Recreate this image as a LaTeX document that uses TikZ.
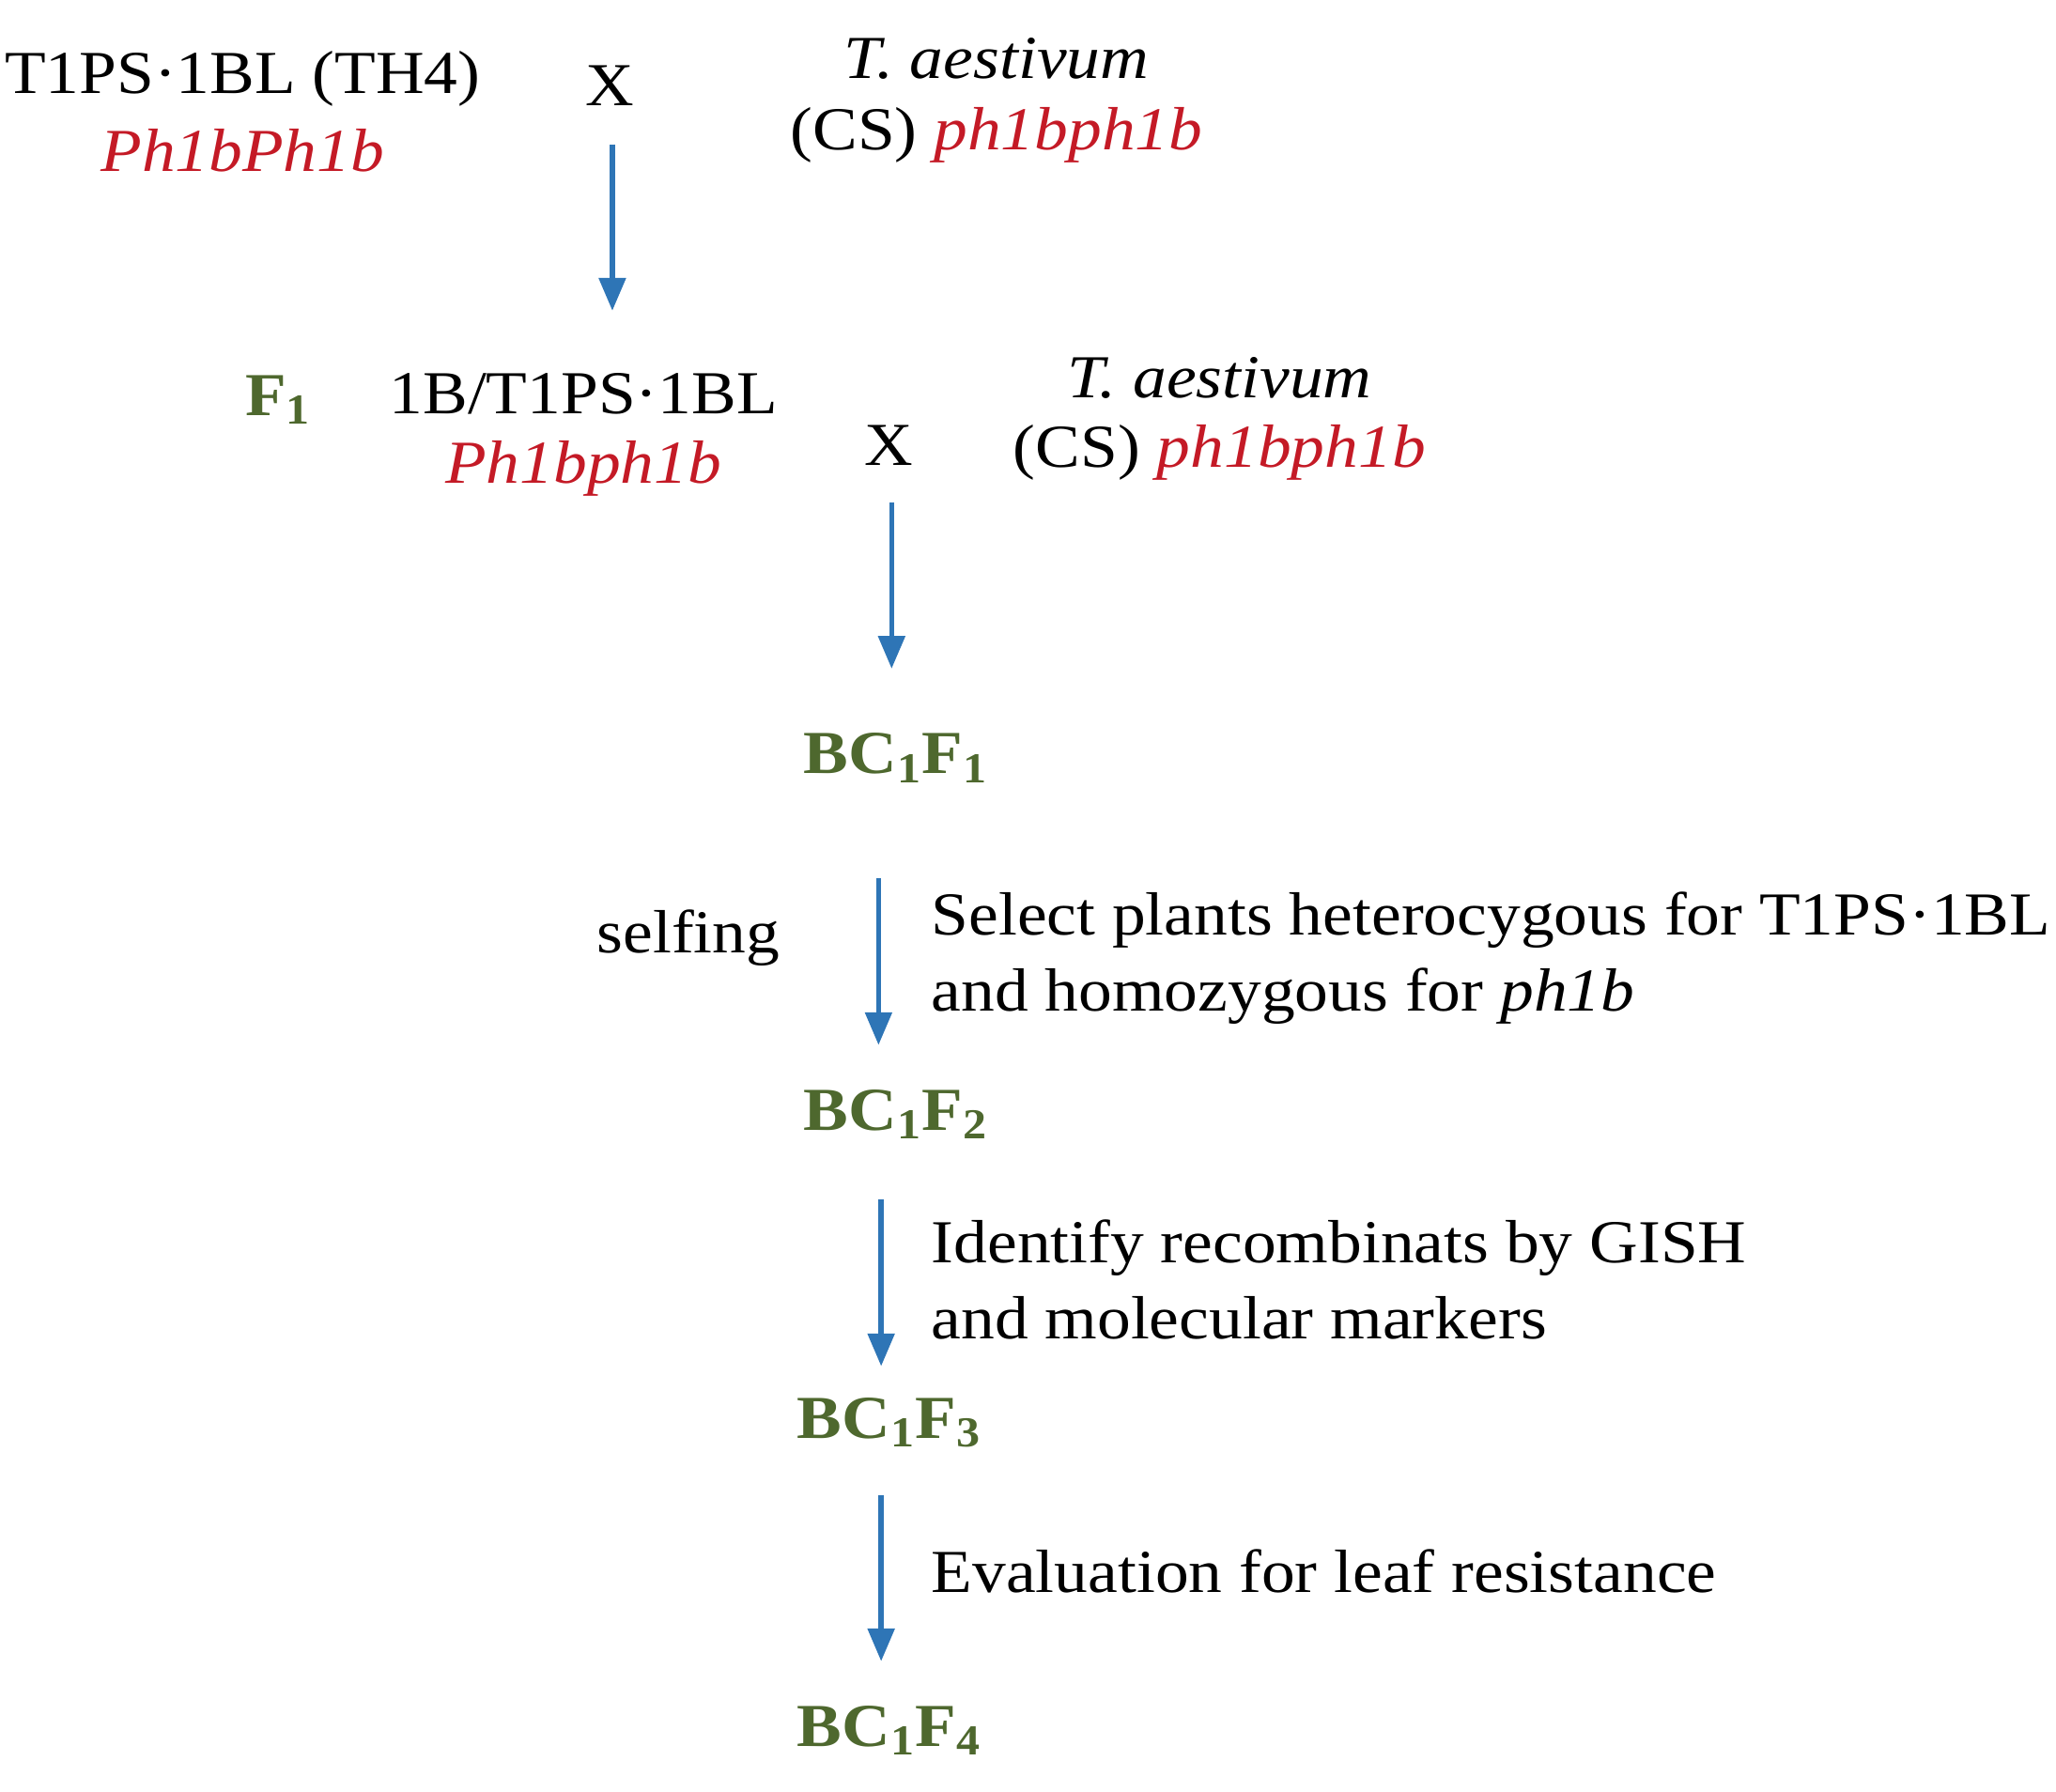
\documentclass[tikz,border=0pt]{standalone}
\usepackage{fontspec}
\setmainfont[FakeStretch=1.1]{Liberation Serif}
\usetikzlibrary{arrows.meta}
\definecolor{ared}{RGB}{196,26,38}
\definecolor{agreen}{RGB}{78,104,46}
\definecolor{ablue}{RGB}{46,117,182}
\begin{document}
\begin{tikzpicture}[x=0.02cm,y=-0.02cm,
  every node/.style={font=\fontsize{26.5}{31}\selectfont,inner sep=0pt},
  gen/.style={text=ared,font=\fontsize{26.5}{31}\selectfont\itshape},
  stage/.style={text=agreen,font=\fontsize{26.5}{31}\selectfont\bfseries},
  arr/.style={ablue,line width=0.08cm,-{Triangle[length=0.5cm,width=0.4cm]}},
  lbl/.style={anchor=west,align=left}]
\useasboundingbox (0,0) rectangle (1568,1366);
\node (p1) at (185,60) {T1PS·1BL (TH4)};
\node[gen] (p1g) at (185,115) {Ph1bPh1b};
\node (x1) at (465,65) {X};
\node (ta1) at (760,45) {\itshape T. aestivum};
\node (cs1) at (760,103) {(CS) \textcolor{ared}{\itshape ph1bph1b}};
\coordinate (a1s) at (467,110); \coordinate (a1e) at (467,237);
\draw[arr] (a1s) -- (a1e);
\node[stage] (f1) at (212,305) {F\textsubscript{1}};
\node (h) at (445,300) {1B/T1PS·1BL};
\node[gen] (hg) at (445,357) {Ph1bph1b};
\node (x2) at (678,340) {X};
\node (ta2) at (930,288) {\itshape T. aestivum};
\node (cs2) at (930,345) {(CS) \textcolor{ared}{\itshape ph1bph1b}};
\coordinate (a2s) at (680,383); \coordinate (a2e) at (680,510);
\draw[arr] (a2s) -- (a2e);
\node[stage] (b1) at (683,578) {BC\textsubscript{1}F\textsubscript{1}};
\draw[arr] (670,670) -- (670,797);
\node (self) at (525,715) {selfing};
\node[lbl] (t1) at (710,731) {Select plants heterocygous for T1PS·1BL\\[2pt]and homozygous for \textit{ph1b}};
\node[stage] (b2) at (683,850) {BC\textsubscript{1}F\textsubscript{2}};
\draw[arr] (672,915) -- (672,1042);
\node[lbl] (t2) at (710,976) {Identify recombinats by GISH\\[2pt]and molecular markers};
\node[stage] (b3) at (678,1085) {BC\textsubscript{1}F\textsubscript{3}};
\draw[arr] (672,1140) -- (672,1267);
\node[lbl] (t3) at (710,1198) {Evaluation for leaf resistance};
\node[stage] (b4) at (678,1320) {BC\textsubscript{1}F\textsubscript{4}};
\end{tikzpicture}
\end{document}
